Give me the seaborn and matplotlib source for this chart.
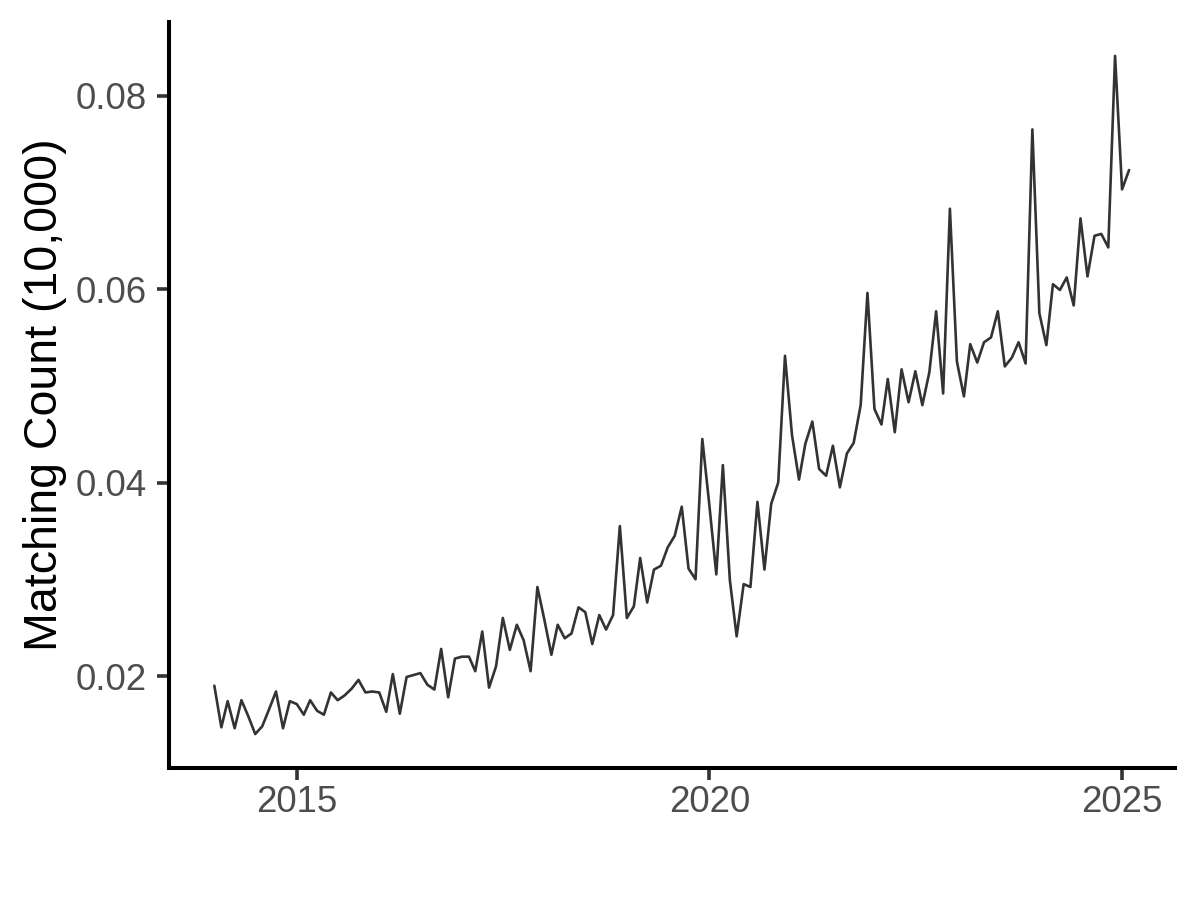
import numpy as np
import pandas as pd
import matplotlib
matplotlib.use("Agg")
import matplotlib.pyplot as plt
import matplotlib.dates as mdates
from matplotlib.ticker import FixedLocator, FormatStrFormatter
import seaborn as sns

# Monthly values, Jan 2014 .. Feb 2025
start_month = "2014-01-01"
counts = [
    0.0190, 0.0147, 0.0174, 0.0146, 0.0175, 0.0158, 0.0140, 0.0148, 0.0166, 0.0184, 0.0146, 0.0174,
    0.0171, 0.0160, 0.0175, 0.0164, 0.0160, 0.0183, 0.0175, 0.0180, 0.0187, 0.0196, 0.0183, 0.0184,
    0.0183, 0.0163, 0.0202, 0.0161, 0.0199, 0.0201, 0.0203, 0.0191, 0.0186, 0.0228, 0.0178, 0.0218,
    0.0220, 0.0220, 0.0205, 0.0246, 0.0188, 0.0210, 0.0260, 0.0227, 0.0253, 0.0237, 0.0205, 0.0292,
    0.0258, 0.0222, 0.0253, 0.0239, 0.0244, 0.0271, 0.0266, 0.0233, 0.0263, 0.0248, 0.0263, 0.0355,
    0.0260, 0.0272, 0.0322, 0.0276, 0.0310, 0.0314, 0.0333, 0.0345, 0.0375, 0.0311, 0.0300, 0.0445,
    0.0377, 0.0305, 0.0418, 0.0299, 0.0241, 0.0295, 0.0292, 0.0380, 0.0310, 0.0378, 0.0400, 0.0531,
    0.0449, 0.0403, 0.0440, 0.0463, 0.0414, 0.0407, 0.0438, 0.0395, 0.0430, 0.0441, 0.0480, 0.0596,
    0.0476, 0.0460, 0.0507, 0.0452, 0.0517, 0.0483, 0.0515, 0.0480, 0.0514, 0.0577, 0.0492, 0.0683,
    0.0525, 0.0489, 0.0543, 0.0524, 0.0545, 0.0550, 0.0577, 0.0520, 0.0529, 0.0545, 0.0523, 0.0765,
    0.0575, 0.0542, 0.0605, 0.0599, 0.0612, 0.0583, 0.0673, 0.0613, 0.0655, 0.0657, 0.0643, 0.0841,
    0.0703, 0.0723,
]
y_ticks = [0.02, 0.04, 0.06, 0.08]
x_tick_years = [2015, 2020, 2025]
y_label = "Matching Count (10,000)"

dates = pd.date_range(start_month, periods=len(counts), freq="MS")
df = pd.DataFrame({"date": dates, "count": counts})

sns.set_theme(style="ticks")
plt.rcParams["font.family"] = ["Liberation Sans", "DejaVu Sans"]

fig = plt.figure(figsize=(12, 9), dpi=100)
ax = fig.add_axes([0.1405, 0.1467, 0.8385, 0.8289])

sns.lineplot(data=df, x="date", y="count", ax=ax, color="#333333", linewidth=1.9)

ax.margins(x=0.05, y=0.05)
ax.yaxis.set_major_locator(FixedLocator(y_ticks))
ax.yaxis.set_major_formatter(FormatStrFormatter("%.2f"))
ax.xaxis.set_major_locator(FixedLocator([mdates.date2num(pd.Timestamp(f"{y}-01-01")) for y in x_tick_years]))
ax.xaxis.set_major_formatter(mdates.DateFormatter("%Y"))

for s in ["top", "right"]:
    ax.spines[s].set_visible(False)
for s in ["left", "bottom"]:
    ax.spines[s].set_linewidth(2.9)
    ax.spines[s].set_color("black")

ax.tick_params(axis="both", length=8.5, width=2.6, color="#333333",
               labelsize=26.4, labelcolor="#4D4D4D")
ax.tick_params(axis="y", pad=7)
ax.tick_params(axis="x", pad=4)

ax.set_xlabel("")
ax.set_ylabel(y_label, fontsize=33.5, color="black", labelpad=6)

fig.savefig("out.png", dpi=100)
